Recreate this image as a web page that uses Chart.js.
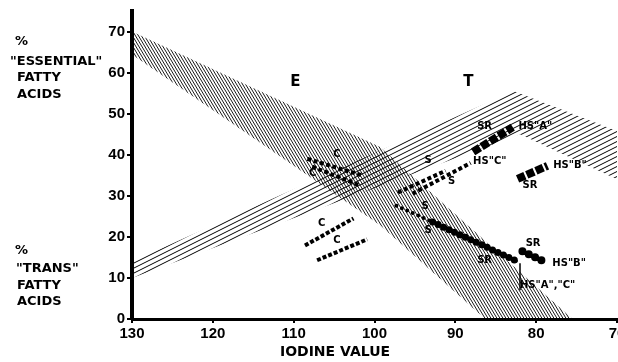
<!DOCTYPE html>
<html>
<head>
<meta charset="utf-8">
<script src="https://cdn.jsdelivr.net/npm/chart.js@4.4.1/dist/chart.umd.min.js"></script>
<style>
  html, body { margin: 0; padding: 0; background: #fff; overflow: hidden; }
</style>
</head>
<body>
<canvas id="chart" width="618" height="362"></canvas>
<script>
// bandes hachurées (indice d'iode, %)
const eTopIV = [130, 99.3, 75.5];
const eTopPct = [70, 41.9, 0];
const eBotIV = [130, 99.3, 86.3, 75.5];
const eBotPct = [64.4, 22.8, 0, 0];
const tTopIV = [130, 82.8, 70];
const tTopPct = [14, 55.5, 45.8];
const tBotIV = [130, 82, 70];
const tBotPct = [10, 45, 34];

// séries mesurées
const eC1IV = [108.3, 101.4], eC1Pct = [39.0, 34.9];
const eC2IV = [107.7, 101.8], eC2Pct = [37.1, 32.5];
const tC1IV = [108.6, 102.6], tC1Pct = [17.9, 24.5];
const tC2IV = [107.1, 100.9], tC2Pct = [14.3, 19.4];
const tS1IV = [97.1, 91.2], tS1Pct = [30.8, 36.1];
const tS2IV = [95.3, 88.1], tS2Pct = [30.5, 38.0];
const tSRaIV = [87.8, 82.9], tSRaPct = [40.7, 46.7];
const tSRbIV = [82.3, 78.6], tSRbPct = [34.1, 37.3];
const eSaIV = [97.3, 92.8], eSaPct = [27.6, 23.6];
const eSbIV = [92.8, 82.3], eSbPct = [23.6, 14.0];
const eSRbIV = [81.7, 78.6], eSRbPct = [16.5, 13.6];
const leadIV = [82.0, 82.0], leadPct = [13.6, 7.0];

// étiquettes
const bandText = ['E', 'T'];
const bandIV = [109.8, 88.4];
const bandPct = [57.6, 57.6];
const noteText = ['C', 'C', 'C', 'C', 'S', 'S', 'S', 'S', 'SR', 'HS"A"', 'HS"C"', 'SR', 'HS"B"', 'SR', 'HS"B"', 'SR', 'HS"A","C"'];
const noteIV = [105.1, 108.1, 107.0, 105.1, 93.8, 90.9, 94.2, 93.8, 87.3, 82.2, 87.8, 81.7, 77.9, 81.3, 78.0, 87.3, 82.0];
const notePct = [40.2, 35.4, 23.2, 19.1, 38.5, 33.4, 27.4, 21.6, 47.0, 47.0, 38.3, 32.5, 37.3, 18.4, 13.6, 14.3, 8.2];

const pts = (xs, ys) => xs.map((x, i) => ({ x: x, y: ys[i] }));

const ctx = document.getElementById('chart').getContext('2d');

// motif de hachures
function hatch(w, h, n, down, lw) {
    const c = document.createElement('canvas');
    c.width = w; c.height = h;
    const g = c.getContext('2d');
    g.strokeStyle = '#000';
    g.lineWidth = lw;
    for (let k = -3 * n; k <= 4 * n; k++) {
        const c0 = k * h / n;
        g.beginPath();
        if (down) { g.moveTo(-w, c0 - h); g.lineTo(2 * w, c0 + 2 * h); }
        else { g.moveTo(-w, c0 + h); g.lineTo(2 * w, c0 - 2 * h); }
        g.stroke();
    }
    return ctx.createPattern(c, 'repeat');
}
const eHatch = hatch(3, 5, 1, true, 0.9);
const tHatch = hatch(10, 5, 1, false, 1);

function band(xs, ys, pat, fill) {
    return { data: pts(xs, ys), borderWidth: 0, pointRadius: 0, fill: fill, backgroundColor: pat, tension: 0 };
}
function squares(xs, ys, size, gap) {
    return { data: pts(xs, ys), borderColor: '#000', borderWidth: size, borderDash: [size, gap], borderCapStyle: 'butt', pointRadius: 0, fill: false };
}
function dots(xs, ys, size, pitch) {
    return { data: pts(xs, ys), borderColor: '#000', borderWidth: size, borderDash: [0, pitch], borderCapStyle: 'round', pointRadius: 0, fill: false };
}

const notes = {
    id: 'notes',
    afterDatasetsDraw(chart) {
        const { ctx, scales: { x, y } } = chart;
        ctx.save();
        ctx.fillStyle = '#000';
        ctx.textBaseline = 'middle';
        ctx.textAlign = 'center';
        ctx.font = 'bold 15px "DejaVu Sans"';
        bandText.forEach((t, i) => ctx.fillText(t, x.getPixelForValue(bandIV[i]), y.getPixelForValue(bandPct[i])));
        ctx.textAlign = 'left';
        ctx.font = 'bold 10px "DejaVu Sans"';
        noteText.forEach((t, i) => ctx.fillText(t, x.getPixelForValue(noteIV[i]), y.getPixelForValue(notePct[i])));
        // titres à gauche
        ctx.font = 'bold 13px "DejaVu Sans"';
        ctx.fillText('%', 15, 42);
        ctx.fillText('"ESSENTIAL"', 10, 62);
        ctx.fillText('FATTY', 17, 78);
        ctx.fillText('ACIDS', 17, 95);
        ctx.fillText('%', 15, 251);
        ctx.fillText('"TRANS"', 16, 269);
        ctx.fillText('FATTY', 17, 286);
        ctx.fillText('ACIDS', 17, 302);
        ctx.textAlign = 'center';
        ctx.font = 'bold 14px "DejaVu Sans"';
        ctx.fillText('IODINE VALUE', 335, 352);
        ctx.restore();
    }
};

const chart = new Chart(ctx, {
    type: 'line',
    data: {
        datasets: [
            squares(eC1IV, eC1Pct, 4, 2.5),
            squares(eC2IV, eC2Pct, 4, 2.5),
            squares(tC1IV, tC1Pct, 4, 2),
            squares(tC2IV, tC2Pct, 4, 2),
            squares(tS1IV, tS1Pct, 4, 2.5),
            squares(tS2IV, tS2Pct, 4, 2.5),
            squares(tSRaIV, tSRaPct, 8, 2),
            squares(tSRbIV, tSRbPct, 8, 2),
            dots(eSaIV, eSaPct, 4, 6),
            dots(eSbIV, eSbPct, 7, 6),
            { data: pts(eSbIV, eSbPct), borderColor: '#000', borderWidth: 2, pointRadius: 0, fill: false },
            dots(eSRbIV, eSRbPct, 8, 7),
            { data: pts(leadIV, leadPct), borderColor: '#000', borderWidth: 1.5, pointRadius: 0, fill: false },
            band(eTopIV, eTopPct, eHatch, '+1'),
            band(eBotIV, eBotPct, eHatch, false),
            band(tTopIV, tTopPct, tHatch, '+1'),
            band(tBotIV, tBotPct, tHatch, false)
        ]
    },
    options: {
        responsive: false,
        animation: false,
        layout: { padding: { top: 11, right: 1, bottom: 17, left: 0 } },
        plugins: {
            legend: { display: false },
            tooltip: { enabled: false },
            filler: { drawTime: 'beforeDatasetsDraw' }
        },
        scales: {
            x: {
                type: 'linear',
                min: 70,
                max: 130,
                reverse: true,
                afterFit: (s) => { s.paddingLeft = 0; s.paddingRight = 0; },
                ticks: { stepSize: 10, color: '#000', padding: 2, maxRotation: 0, font: { size: 15, weight: 'bold' } },
                grid: { drawOnChartArea: false, drawTicks: true, tickLength: 4, color: '#000', lineWidth: 2 },
                border: { display: true, color: '#000', width: 3 }
            },
            y: {
                min: 0,
                max: 75,
                afterFit: (s) => { s.width = 132; },
                ticks: { stepSize: 10, color: '#000', padding: 2, font: { size: 15, weight: 'bold' },
                    callback: (v) => v > 70 ? null : v },
                grid: { drawOnChartArea: false, drawTicks: true, tickLength: 5, color: '#000', lineWidth: 2 },
                border: { display: true, color: '#000', width: 4 }
            }
        }
    },
    plugins: [notes]
});
</script>
</body>
</html>
